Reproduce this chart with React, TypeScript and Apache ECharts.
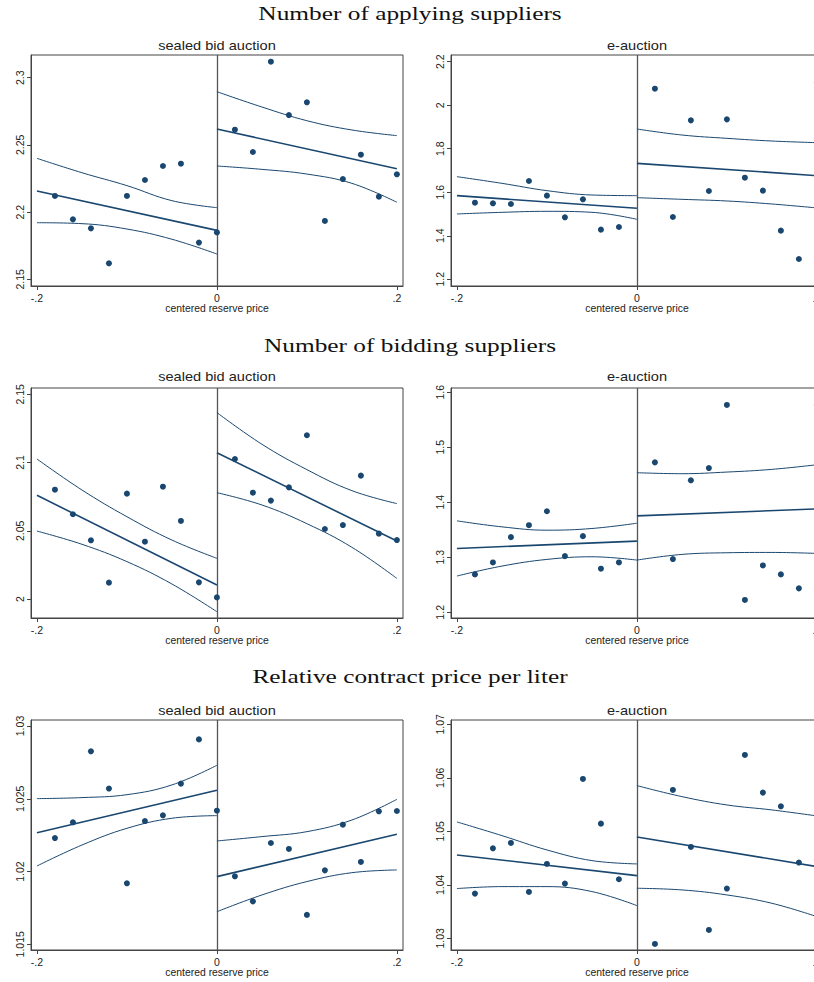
import React, { useEffect, useRef } from "react";
import * as echarts from "echarts";

// ---------- shared x positions ----------
const xDotsLeft = [-0.18, -0.16, -0.14, -0.12, -0.1, -0.08, -0.06, -0.04, -0.02, 0];
const xDotsLeftE = [-0.18, -0.16, -0.14, -0.12, -0.1, -0.08, -0.06, -0.04, -0.02];
const xDotsRight = [0.02, 0.04, 0.06, 0.08, 0.1, 0.12, 0.14, 0.16, 0.18, 0.2];
const xBandLeft = [-0.2, -0.15, -0.1, -0.05, 0];
const xBandRight = [0, 0.05, 0.1, 0.15, 0.2];
const xFitLeft = [-0.2, 0];
const xFitRight = [0, 0.2];
const xTicks = [-0.2, 0, 0.2];

// ---------- texts ----------
const rowTitles = ["Number of applying suppliers", "Number of bidding suppliers", "Relative contract price per liter"];
const panelTitles = ["sealed bid auction", "e-auction"];
const xAxisName = "centered reserve price";

// ---------- Panel 1: applying suppliers, sealed bid ----------
const appSealedDotsL = [2.212, 2.1946, 2.1879, 2.1619, 2.212, 2.2239, 2.2343, 2.236, 2.1773, 2.1849];
const appSealedDotsR = [2.2613, 2.2447, 2.3119, 2.2722, 2.2817, 2.1934, 2.2246, 2.2427, 2.2115, 2.2281];
const appSealedFitL = [2.2157, 2.1864];
const appSealedFitR = [2.2618, 2.2323];
const appSealedUpL = [2.24, 2.2293, 2.2197, 2.2085, 2.2033];
const appSealedLoL = [2.1921, 2.1914, 2.1874, 2.1798, 2.1688];
const appSealedUpR = [2.2896, 2.2782, 2.268, 2.2611, 2.2569];
const appSealedLoR = [2.2343, 2.2318, 2.2283, 2.2214, 2.2073];
const appSealedTicks = [2.15, 2.2, 2.25, 2.3];
const appSealedRange = [2.145, 2.3169];

// ---------- Panel 2: applying suppliers, e-auction ----------
const appEDotsL = [1.5522, 1.5492, 1.5461, 1.6518, 1.5844, 1.4848, 1.5675, 1.4282, 1.4404];
const appEDotsR = [2.076, 1.4864, 1.9305, 1.6058, 1.935, 1.6671, 1.6074, 1.4236, 1.2934, 2.104];
const appEFitL = [1.5844, 1.5262];
const appEFitR = [1.7329, 1.6763];
const appEUpL = [1.6717, 1.641, 1.6074, 1.5874, 1.5844];
const appELoL = [1.5002, 1.5078, 1.5124, 1.5078, 1.4757];
const appEUpR = [1.8907, 1.8631, 1.8478, 1.8355, 1.8279];
const appELoR = [1.5752, 1.5675, 1.5599, 1.5461, 1.528];
const appETicks = [1.2, 1.4, 1.6, 1.8, 2, 2.2];
const appERange = [1.1692, 2.2308];

// ---------- Panel 3: bidding suppliers, sealed bid ----------
const bidSealedDotsL = [2.0801, 2.0621, 2.043, 2.012, 2.0772, 2.042, 2.0823, 2.0572, 2.0122, 2.0012];
const bidSealedDotsR = [2.1026, 2.0779, 2.0721, 2.0818, 2.12, 2.0513, 2.0542, 2.0904, 2.0479, 2.0432];
const bidSealedFitL = [2.076, 2.0103];
const bidSealedFitR = [2.1072, 2.0425];
const bidSealedUpL = [2.1026, 2.0799, 2.0603, 2.0432, 2.0298];
const bidSealedLoL = [2.0498, 2.0401, 2.0274, 2.011, 1.9907];
const bidSealedUpR = [2.1366, 2.1134, 2.0948, 2.0794, 2.0699];
const bidSealedLoR = [2.0779, 2.0689, 2.0552, 2.0379, 2.0151];
const bidSealedTicks = [2, 2.05, 2.1, 2.15];
const bidSealedRange = [1.9861, 2.1546];

// ---------- Panel 4: bidding suppliers, e-auction ----------
const bidEDotsL = [1.269, 1.2907, 1.3367, 1.3584, 1.3838, 1.3022, 1.3385, 1.2793, 1.2907];
const bidEDotsR = [1.4726, 1.2968, 1.44, 1.4623, 1.577, 1.2225, 1.2853, 1.269, 1.2436, 1.577];
const bidEFitL = [1.3161, 1.3294];
const bidEFitR = [1.3753, 1.388];
const bidEUpL = [1.3663, 1.3554, 1.3493, 1.3524, 1.362];
const bidELoL = [1.266, 1.2841, 1.2962, 1.301, 1.295];
const bidEUpR = [1.4538, 1.452, 1.455, 1.4599, 1.4683];
const bidELoR = [1.295, 1.3053, 1.3083, 1.3089, 1.3071];
const bidETicks = [1.2, 1.3, 1.4, 1.5, 1.6];
const bidERange = [1.1897, 1.6078];

// ---------- Panel 5: relative price, sealed bid ----------
const priceSealedDotsL = [1.0223, 1.02338, 1.02826, 1.0257, 1.01919, 1.02347, 1.02386, 1.02604, 1.02908, 1.02418];
const priceSealedDotsR = [1.01967, 1.01795, 1.02196, 1.02155, 1.01702, 1.02008, 1.02322, 1.02066, 1.02414, 1.02416];
const priceSealedFitL = [1.02267, 1.02558];
const priceSealedFitR = [1.01965, 1.02256];
const priceSealedUpL = [1.02501, 1.02508, 1.02528, 1.02595, 1.0273];
const priceSealedLoL = [1.02038, 1.02182, 1.02297, 1.02366, 1.02384];
const priceSealedUpR = [1.0221, 1.0224, 1.02274, 1.02354, 1.02496];
const priceSealedLoR = [1.01724, 1.01839, 1.01931, 1.01992, 1.02011];
const priceSealedTicks = [1.015, 1.02, 1.025, 1.03];
const priceSealedRange = [1.014608, 1.030412];

// ---------- Panel 6: relative price, e-auction ----------
const priceEDotsL = [1.03835, 1.04682, 1.04782, 1.03866, 1.0439, 1.04022, 1.05978, 1.05143, 1.04103];
const priceEDotsR = [1.02894, 1.05773, 1.04707, 1.03156, 1.03929, 1.06427, 1.05723, 1.05467, 1.04415, 1.0447];
const priceEFitL = [1.04558, 1.04172];
const priceEFitR = [1.04894, 1.0434];
const priceEUpL = [1.05175, 1.04919, 1.04651, 1.04452, 1.0439];
const priceELoL = [1.03929, 1.03966, 1.03966, 1.03873, 1.03611];
const priceEUpR = [1.05854, 1.05648, 1.05492, 1.05399, 1.05287];
const priceELoR = [1.03935, 1.03904, 1.0381, 1.03654, 1.03405];
const priceETicks = [1.03, 1.04, 1.05, 1.06, 1.07];
const priceERange = [1.02781, 1.0708];

// ---------- layout & style ----------
const W = 814;
const H = 982;
const NAVY = "#1a476f";
const AXIS = "#444444";
const TXT = "#222222";
const SANS = "'Liberation Sans', Arial, Helvetica, sans-serif";
const SERIF = "'Liberation Serif', 'Times New Roman', serif";
const colLefts = [31, 451];
const plotWidth = 372;
const rowTops = [55, 388, 720];
const rowHeights = [231, 230, 230];
const rowTitleY = [13.7, 346, 677];
const panelTitleY = [45.6, 377.3, 710.7];
const xRange = [-0.2066, 0.2068];

const zip = (xs: number[], ys: number[]) => xs.map((x, i) => [x, ys[i]]);

type Panel = {
  dotsXL: number[];
  dotsL: number[];
  dotsR: number[];
  fitL: number[];
  fitR: number[];
  upL: number[];
  loL: number[];
  upR: number[];
  loR: number[];
  ticks: number[];
  range: number[];
};

const panels: Panel[] = [
  { dotsXL: xDotsLeft, dotsL: appSealedDotsL, dotsR: appSealedDotsR, fitL: appSealedFitL, fitR: appSealedFitR, upL: appSealedUpL, loL: appSealedLoL, upR: appSealedUpR, loR: appSealedLoR, ticks: appSealedTicks, range: appSealedRange },
  { dotsXL: xDotsLeftE, dotsL: appEDotsL, dotsR: appEDotsR, fitL: appEFitL, fitR: appEFitR, upL: appEUpL, loL: appELoL, upR: appEUpR, loR: appELoR, ticks: appETicks, range: appERange },
  { dotsXL: xDotsLeft, dotsL: bidSealedDotsL, dotsR: bidSealedDotsR, fitL: bidSealedFitL, fitR: bidSealedFitR, upL: bidSealedUpL, loL: bidSealedLoL, upR: bidSealedUpR, loR: bidSealedLoR, ticks: bidSealedTicks, range: bidSealedRange },
  { dotsXL: xDotsLeftE, dotsL: bidEDotsL, dotsR: bidEDotsR, fitL: bidEFitL, fitR: bidEFitR, upL: bidEUpL, loL: bidELoL, upR: bidEUpR, loR: bidELoR, ticks: bidETicks, range: bidERange },
  { dotsXL: xDotsLeft, dotsL: priceSealedDotsL, dotsR: priceSealedDotsR, fitL: priceSealedFitL, fitR: priceSealedFitR, upL: priceSealedUpL, loL: priceSealedLoL, upR: priceSealedUpR, loR: priceSealedLoR, ticks: priceSealedTicks, range: priceSealedRange },
  { dotsXL: xDotsLeftE, dotsL: priceEDotsL, dotsR: priceEDotsR, fitL: priceEFitL, fitR: priceEFitR, upL: priceEUpL, loL: priceELoL, upR: priceEUpR, loR: priceELoR, ticks: priceETicks, range: priceERange },
];

const fmtX = (v: number) => (v === 0 ? "0" : String(v).replace("0.", "."));

function buildOption() {
  const grids: any[] = [];
  const xAxes: any[] = [];
  const yAxes: any[] = [];
  const series: any[] = [];
  const graphics: any[] = [];

  panels.forEach((p, i) => {
    const row = Math.floor(i / 2);
    const col = i % 2;
    grids.push({
      left: colLefts[col],
      top: rowTops[row],
      width: plotWidth,
      height: rowHeights[row],
      show: true,
      borderColor: AXIS,
      borderWidth: 1,
      backgroundColor: "transparent",
      outerBoundsMode: "none",
      containLabel: false,
    });
    xAxes.push({
      type: "value",
      gridIndex: i,
      min: xRange[0],
      max: xRange[1],
      axisLine: { show: true, onZero: false, lineStyle: { color: AXIS, width: 1 } },
      axisTick: { show: true, length: 4, customValues: xTicks, lineStyle: { color: AXIS, width: 1 } },
      axisLabel: { show: true, customValues: xTicks, formatter: fmtX, fontSize: 10.5, color: TXT, fontFamily: SANS, margin: 6 },
      splitLine: { show: false },
      name: xAxisName,
      nameLocation: "middle",
      nameGap: 17,
      nameTextStyle: { fontSize: 10.4, color: TXT, fontFamily: SANS },
    });
    yAxes.push({
      type: "value",
      gridIndex: i,
      min: p.range[0],
      max: p.range[1],
      axisLine: { show: true, onZero: false, lineStyle: { color: AXIS, width: 1 } },
      axisTick: { show: true, length: 4, customValues: p.ticks, lineStyle: { color: AXIS, width: 1 } },
      axisLabel: { show: true, customValues: p.ticks, rotate: 90, formatter: (v: number) => String(v), fontSize: 10.5, color: TXT, fontFamily: SANS, margin: 6 },
      splitLine: { show: false },
    });

    const dots = [...zip(p.dotsXL, p.dotsL), ...zip(xDotsRight, p.dotsR)];
    series.push({
      type: "scatter",
      xAxisIndex: i,
      yAxisIndex: i,
      data: dots,
      symbol: "circle",
      symbolSize: 6,
      itemStyle: { color: NAVY, opacity: 1 },
      silent: true,
      z: 4,
      markLine: {
        silent: true,
        symbol: "none",
        label: { show: false },
        lineStyle: { color: "#555555", width: 1.3, type: "solid" },
        data: [{ xAxis: 0 }],
        z: 1,
      },
    });
    const fitStyle = { color: NAVY, width: 1.6 };
    const ciStyle = { color: NAVY, width: 1.0 };
    const lines: [number[], number[], any, boolean][] = [
      [xFitLeft, p.fitL, fitStyle, false],
      [xFitRight, p.fitR, fitStyle, false],
      [xBandLeft, p.upL, ciStyle, true],
      [xBandLeft, p.loL, ciStyle, true],
      [xBandRight, p.upR, ciStyle, true],
      [xBandRight, p.loR, ciStyle, true],
    ];
    lines.forEach(([xs, ys, style, smooth]) => {
      series.push({
        type: "line",
        xAxisIndex: i,
        yAxisIndex: i,
        data: zip(xs, ys),
        showSymbol: false,
        symbol: "none",
        smooth: smooth ? 0.4 : false,
        lineStyle: style,
        silent: true,
        z: 3,
      });
    });

    graphics.push({
      type: "text",
      x: colLefts[col] + plotWidth / 2,
      y: panelTitleY[row],
      scaleX: 1.14,
      style: { text: panelTitles[col], fontSize: 12.8, fontFamily: SANS, fill: TXT, align: "center", verticalAlign: "middle" },
    });
  });

  rowTitles.forEach((t, r) => {
    graphics.push({
      type: "text",
      x: 410,
      y: rowTitleY[r],
      scaleX: 1.3,
      style: { text: t, fontSize: 19.5, fontFamily: SERIF, fill: "#111111", align: "center", verticalAlign: "middle" },
    });
  });

  return {
    animation: false,
    backgroundColor: "#ffffff",
    grid: grids,
    xAxis: xAxes,
    yAxis: yAxes,
    series,
    graphic: graphics,
  };
}

export default function App() {
  const ref = useRef<HTMLDivElement>(null);
  useEffect(() => {
    if (!ref.current) return;
    const chart = echarts.init(ref.current, null, { renderer: "svg", width: W, height: H });
    chart.setOption(buildOption() as any);
    return () => chart.dispose();
  }, []);
  return <div ref={ref} style={{ position: "absolute", left: 0, top: 0, width: W, height: H, background: "#fff" }} />;
}
